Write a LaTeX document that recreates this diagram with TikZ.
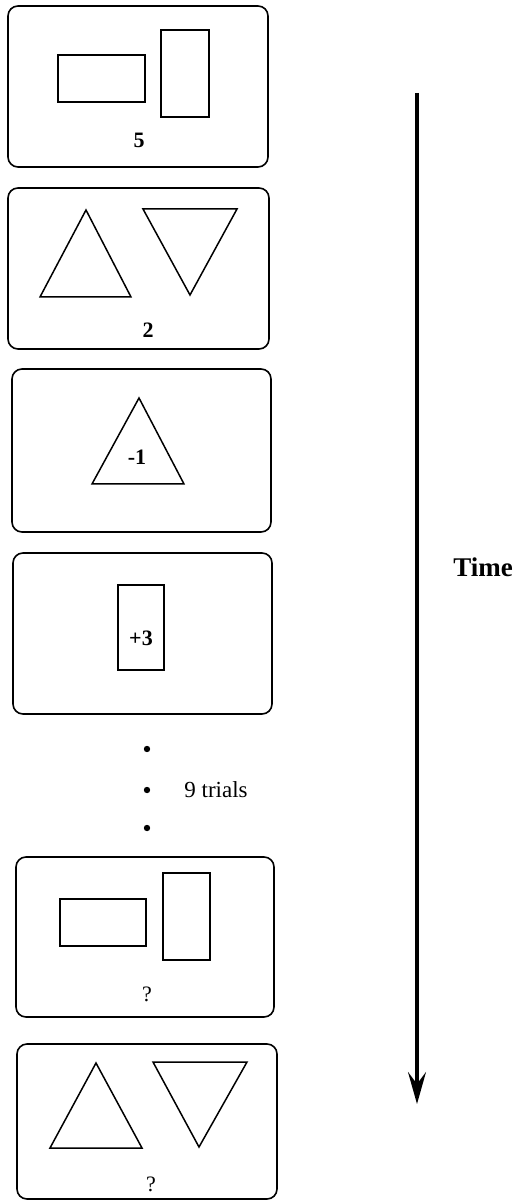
\documentclass[tikz,border=0pt]{standalone}
\usepackage{fontspec}
\setmainfont{Liberation Serif}
\usetikzlibrary{arrows.meta}

\begin{document}
\begin{tikzpicture}[x=0.5pt,y=-0.5pt, every node/.style={font=\fontsize{11}{13}\selectfont\bfseries,inner sep=1pt}, card/.style={draw,line width=0.8pt,rounded corners=5pt}, figure/.style={draw,line width=0.75pt,line join=miter}, dot/.style={circle,fill,inner sep=0pt,minimum size=3.2pt}, timearr/.style={-{Stealth[length=16pt,width=9pt,inset=6pt]},line width=1.6pt}]
\useasboundingbox (0,0) rectangle (514,1202);
% card 1
\draw[card] (8,6) rectangle (268,167);
\draw[figure] (58,55) rectangle (145,102);\draw[figure] (161,30) rectangle (209,117);
\node (val1) at (139,140) {5};
% card 2
\draw[card] (8,188) rectangle (269,349);
\draw[figure] (40,297)--(131,297)--(86,210)--cycle;\draw[figure] (143,209)--(237,209)--(190,295)--cycle;
\node (val2) at (148,330) {2};
% card 3
\draw[card] (12,369) rectangle (271,532);
\draw[figure] (92,484)--(184,484)--(139,398)--cycle;
\node (val3) at (137,457) {-1};
% card 4
\draw[card] (13,553) rectangle (272,714);
\draw[figure] (118,585) rectangle (164,670);
\node (val4) at (141,638) {+3};
% skipped trials
\node[dot] (d1) at (147,749) {};\node[dot] (d2) at (147,790) {};\node[dot] (d3) at (147,828) {};
\node[font=\fontsize{11.5}{13}\selectfont,anchor=west] (trials) at (182,790) {9 trials};
% card 5
\draw[card] (16,857) rectangle (274,1017);
\draw[figure] (60,899) rectangle (146,946);\draw[figure] (163,873) rectangle (210,960);
\node[font=\fontsize{11}{13}\selectfont] (val5) at (147,994) {?};
% card 6
\draw[card] (17,1044) rectangle (277,1199);
\draw[figure] (50,1148)--(142,1148)--(96,1063)--cycle;\draw[figure] (153,1062)--(247,1062)--(199,1147)--cycle;
\node[font=\fontsize{11}{13}\selectfont] (val6) at (151,1184) {?};
% time axis
\coordinate (tstart) at (417,93);\coordinate (tend) at (417,1104);
\draw[timearr] (tstart)--(tend);
\node[font=\fontsize{13.5}{16}\selectfont\bfseries,anchor=west] (time) at (451,567) {Time};
\end{tikzpicture}
\end{document}
